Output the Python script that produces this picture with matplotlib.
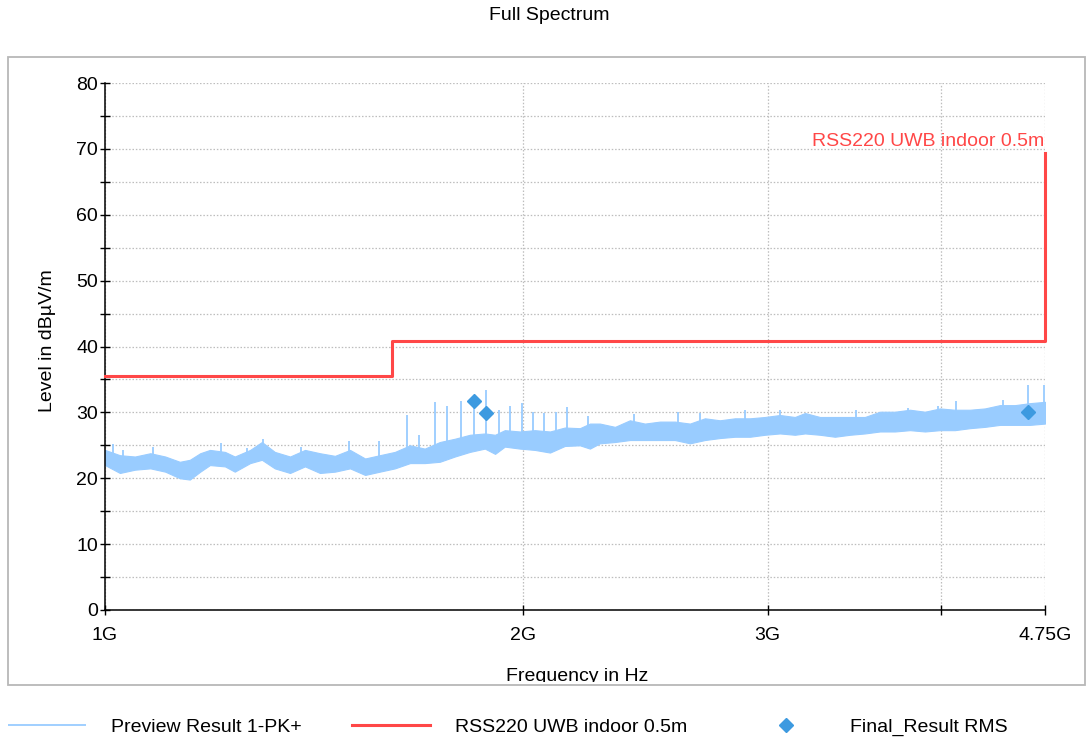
import numpy as np
import matplotlib
matplotlib.use("Agg")
import matplotlib.pyplot as plt
from matplotlib.patches import Rectangle
from matplotlib.ticker import FixedLocator, NullLocator

plt.rcParams['font.family'] = ['Liberation Sans', 'DejaVu Sans']
plt.rcParams['font.size'] = 14

# preview trace envelope (GHz, dBuV/m)
env_freq = [1.000, 1.025, 1.051, 1.078, 1.105, 1.132, 1.151, 1.171, 1.190, 1.220,
            1.240, 1.272, 1.297, 1.325, 1.359, 1.393, 1.428, 1.464, 1.501, 1.539,
            1.577, 1.617, 1.658, 1.699, 1.742, 1.786, 1.831, 1.877, 1.909, 1.940,
            1.989, 2.039, 2.091, 2.143, 2.197, 2.234, 2.271, 2.329, 2.387, 2.447,
            2.509, 2.572, 2.637, 2.703, 2.771, 2.841, 2.913, 2.986, 3.061, 3.138,
            3.191, 3.271, 3.353, 3.438, 3.524, 3.613, 3.704, 3.797, 3.893, 3.991,
            4.091, 4.194, 4.300, 4.408, 4.519, 4.632, 4.750]
env_hi = [24.3, 23.5, 23.3, 23.8, 23.3, 22.5, 22.8, 23.8, 24.3, 24.0,
          23.3, 24.3, 25.5, 24.0, 23.3, 24.3, 23.8, 23.4, 24.3, 23.0,
          23.5, 24.0, 25.0, 24.5, 25.5, 26.0, 26.6, 26.8, 26.6, 27.3,
          27.1, 27.3, 27.1, 27.7, 27.6, 28.3, 28.3, 27.8, 28.8, 28.3,
          28.6, 28.6, 28.3, 29.1, 28.8, 29.1, 29.1, 29.3, 29.6, 29.3,
          29.9, 29.3, 29.3, 29.3, 29.3, 30.1, 30.1, 30.4, 30.1, 30.6,
          30.4, 30.4, 30.6, 31.1, 31.1, 31.4, 31.6]
env_lo = [22.0, 20.8, 21.3, 21.5, 21.0, 20.0, 19.8, 21.0, 22.0, 21.8,
          21.0, 22.3, 22.8, 21.5, 20.8, 21.8, 20.8, 21.0, 21.5, 20.5,
          21.0, 21.5, 22.3, 22.3, 22.5, 23.3, 24.0, 24.5, 23.7, 24.8,
          24.5, 24.3, 23.9, 24.9, 25.0, 24.5, 25.3, 25.5, 25.8, 25.8,
          25.8, 25.8, 25.3, 25.8, 26.1, 26.3, 26.3, 26.6, 26.8, 26.6,
          26.8, 26.6, 26.3, 26.6, 26.8, 27.1, 27.1, 27.3, 27.1, 27.3,
          27.3, 27.6, 27.8, 28.1, 28.1, 28.1, 28.3]

# narrow peaks on top of the noise floor
spike_freq = [1.013, 1.030, 1.082, 1.213, 1.265, 1.299, 1.385, 1.498, 1.575, 1.651,
              1.683, 1.729, 1.764, 1.803, 1.842, 1.880, 1.921, 1.958, 1.996, 2.033,
              2.071, 2.112, 2.152, 2.226, 2.404, 2.584, 2.681, 2.889, 3.061, 3.473,
              3.786, 3.977, 4.097, 4.434, 4.621, 4.742]
spike_top = [25.2, 24.3, 24.8, 25.3, 24.6, 25.9, 24.8, 25.7, 25.7, 29.6,
             26.6, 31.5, 31.0, 31.7, 31.5, 33.4, 30.4, 31.0, 31.4, 30.0,
             29.9, 30.1, 30.8, 29.5, 29.8, 30.0, 29.9, 30.4, 30.3, 30.4,
             30.6, 30.9, 31.7, 31.9, 34.2, 34.2]

# limit line
limit_freq = [1.0, 1.61, 1.61, 4.75, 4.75]
limit_level = [35.5, 35.5, 40.9, 40.9, 69.4]

# final RMS results
final_freq = [1.843, 1.881, 4.621]
final_level = [31.7, 29.95, 30.1]

x_ticks = [1, 2, 3, 4, 4.75]
x_tick_labels = ['1G', '2G', '3G', '', '4.75G']

W, H = 1089, 740
fig = plt.figure(figsize=(W / 100, H / 100), dpi=100)
ax = fig.add_axes([105 / W, 1 - 610 / H, (1045 - 105) / W, (610 - 83) / H])

trace_col = '#99ccff'
limit_col = '#ff4747'
final_col = '#3d9ae0'

ax.fill_between(env_freq, env_lo, env_hi, color=trace_col, lw=0.8, zorder=2)
spike_base = np.interp(spike_freq, env_freq, env_lo)
pk = ax.vlines(spike_freq, spike_base, spike_top, color=trace_col, lw=1.3, zorder=2,
               label='Preview Result 1-PK+')
lim, = ax.plot(limit_freq, limit_level, color=limit_col, lw=2.2, zorder=3,
               clip_on=False, label='RSS220 UWB indoor 0.5m')
fin, = ax.plot(final_freq, final_level, ls='none', marker='D', ms=6.8,
               color=final_col, zorder=4, label='Final_Result RMS')
ax.text(4.742, 70.45, 'RSS220 UWB indoor 0.5m', color=limit_col, ha='right',
        va='baseline', fontsize=14, zorder=5)

ax.set_xscale('log')
ax.set_xlim(1, 4.75)
ax.set_ylim(0, 80)
ax.xaxis.set_major_locator(FixedLocator(x_ticks))
ax.xaxis.set_minor_locator(NullLocator())
ax.set_xticklabels(x_tick_labels)
ax.set_yticks(range(0, 81, 10))
ax.set_yticks(range(5, 80, 10), minor=True)

for s in ('top', 'right'):
    ax.spines[s].set_visible(False)
for s in ('left', 'bottom'):
    ax.spines[s].set_linewidth(1.1)
ax.tick_params(which='both', direction='inout', length=7, width=1.0, color='black')
ax.tick_params(axis='y', pad=1.5)
ax.tick_params(axis='x', pad=9)
ax.grid(True, which='both', ls=(0, (1.2, 1.5)), color='#bdbdbd', lw=0.9, zorder=0)
ax.set_axisbelow(True)

# outer frame and labels
frame = Rectangle((8 / W, 1 - 685 / H), (1085 - 8) / W, (685 - 57) / H,
                  transform=fig.transFigure, fill=False, ec='#b8b8b8', lw=1.3)
fig.add_artist(frame)
fig.text(549 / W, 1 - 16 / H, 'Full Spectrum', ha='center', va='center', fontsize=14)
fig.text(48 / W, 1 - 341 / H, 'Level in dBµV/m', ha='center', va='center',
         rotation=90, fontsize=14)
clip = Rectangle((8 / W, 1 - 682 / H), (1085 - 8) / W, (682 - 57) / H,
                 transform=fig.transFigure, visible=False)
fig.add_artist(clip)
xl = fig.text(577 / W, 1 - 681 / H, 'Frequency in Hz', ha='center', va='baseline',
              fontsize=14)
xl.set_clip_path(clip)
xl.set_clip_on(True)

# legend row
for handle, x0 in ((pk, 8), (lim, 352), (fin, 747)):
    fig.legend(handles=[handle], loc='center left', bbox_to_anchor=(x0 / W, 1 - 727 / H),
               frameon=False, borderpad=0, borderaxespad=0, handlelength=4.0,
               handletextpad=1.3, fontsize=14)

fig.savefig('out.png', dpi=100)
